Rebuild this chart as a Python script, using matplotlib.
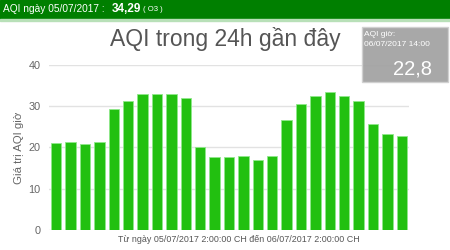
import numpy as np
import matplotlib.pyplot as plt
from matplotlib.patches import Rectangle

plt.rcParams['font.family'] = ['Liberation Sans', 'DejaVu Sans']

# hourly AQI from 05/07 14:00 to 06/07 14:00
hours = list(range(14, 24)) + list(range(0, 15))
aqi = [21.0, 21.3, 20.8, 21.3, 29.3, 31.3, 32.9, 32.9, 33.0, 32.0,
       20.1, 17.7, 17.6, 17.8, 17.0, 18.0, 26.5, 30.5, 32.4, 33.4,
       32.4, 31.3, 25.6, 23.2, 22.8]
yticks = [0, 10, 20, 30, 40]

day_aqi = "34,29"
last_aqi = "22,8"

fig = plt.figure(figsize=(4.5, 2.5), dpi=100)

# top banner
fig.patches.append(Rectangle((0, 1 - 19 / 250), 1, 19 / 250, transform=fig.transFigure,
                             color='#007f00', zorder=0))
fig.patches.append(Rectangle((0, 1 - 21 / 250), 1, 2 / 250, transform=fig.transFigure,
                             color='#b8e0b8', zorder=0))
yb = 1 - 9.5 / 250
fig.text(3 / 450, yb, "AQI ngày 05/07/2017 :", color='white', fontsize=7.3, va='center')
fig.text(112 / 450, yb, day_aqi, color='white', fontsize=8.5, fontweight='bold', va='center')
fig.text(143 / 450, yb, "( O3 )", color='white', fontsize=5.6, va='center')

fig.text(225 / 450, 1 - 39 / 250, "AQI trong 24h gần đây", color='#555555',
         fontsize=16.5, ha='center', va='center')

ax = fig.add_axes([49 / 450, 20 / 250, 360 / 450, 165.3 / 250])
x = np.arange(len(aqi))
ax.bar(x, aqi, width=0.72, color='#22c010', edgecolor='#8fe88a', linewidth=0.6, zorder=2)
ax.set_xlim(-0.5, len(aqi) - 0.5)
ax.set_ylim(0, 40)
ax.set_yticks(yticks)
ax.set_xticks([])
ax.grid(axis='y', color='#e2e2e2', linewidth=1, zorder=0)
for s in ax.spines.values():
    s.set_visible(False)
ax.tick_params(axis='y', length=0, labelsize=7.8, labelcolor='#666666', pad=6)
ax.set_ylabel("Giá trị AQI giờ", fontsize=8.2, color='#666666', labelpad=3)

fig.text(239 / 450, 1 - 239 / 250,
         "Từ ngày 05/07/2017 2:00:00 CH đến 06/07/2017 2:00:00 CH",
         color='#555555', fontsize=6.4, ha='center', va='center')

# info box for latest hour
fig.patches.append(Rectangle((362 / 450, 1 - 82 / 250), 86 / 450, 55 / 250,
                             transform=fig.transFigure, facecolor='#a3a3a3',
                             edgecolor='#d0d0d0', linewidth=1, alpha=0.95, zorder=5))
fig.text(364 / 450, 1 - 34 / 250, "AQI giờ:", color='white', fontsize=6, va='center', zorder=6)
fig.text(364 / 450, 1 - 45 / 250, "06/07/2017 14:00", color='white', fontsize=6,
         va='center', zorder=6)
fig.text(432 / 450, 1 - 69 / 250, last_aqi, color='white', fontsize=14.5, ha='right',
         va='center', zorder=6)

fig.savefig("out.png", dpi=100)
